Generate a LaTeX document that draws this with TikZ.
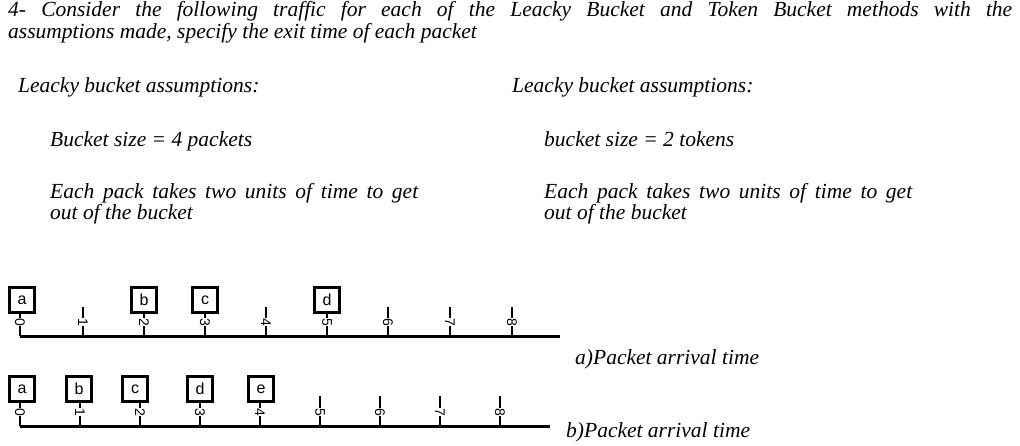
\documentclass[tikz,border=0pt]{standalone}
\usepackage{fontspec}
\setmainfont{Liberation Serif}
\newfontfamily\boxfont{Liberation Sans}
\begin{document}
\begin{tikzpicture}[x=1pt,y=-1pt,
  txt/.style={anchor=base west,inner sep=0,font=\fontsize{21.5}{24}\selectfont\itshape},
  pkt/.style={draw,line width=2.4pt,minimum size=25pt,inner sep=0,font=\boxfont\fontsize{16}{16}\selectfont},
  num/.style={rotate=-90,fill=white,inner sep=0.6pt,font=\boxfont\fontsize{14}{14}\selectfont},
  axisline/.style={line width=3pt},
  tick/.style={line width=2.8pt}]
\useasboundingbox (0,0) rectangle (1020,446);
\node[txt] (t1) at (8,17) {\makebox[1004pt][s]{4- Consider the following traffic for each of the Leacky Bucket and Token Bucket methods with the}};
\node[txt] (t2) at (8,39) {assumptions made, specify the exit time of each packet};
\node[txt] (l1) at (18,93) {Leacky bucket assumptions:};
\node[txt] (r1) at (512,93) {Leacky bucket assumptions:};
\node[txt] (l2) at (50,147) {Bucket size = 4 packets};
\node[txt] (r2) at (544,147) {bucket size = 2 tokens};
\node[txt] (l3) at (50,199) {\makebox[368pt][s]{Each pack takes two units of time to get}};
\node[txt] (l4) at (50,220) {out of the bucket};
\node[txt] (r3) at (544,199) {\makebox[368pt][s]{Each pack takes two units of time to get}};
\node[txt] (r4) at (544,220) {out of the bucket};
% top timeline
\coordinate (As) at (20,336); \coordinate (Ae) at (560,336);
\draw[axisline] (As) -- (Ae);
\foreach \i/\x in {0/20,1/83,2/144,3/205,4/266,5/327,6/388,7/450,8/512}{
  \coordinate (ta\i) at (\x,336);
  \coordinate (tt\i) at (\x,307);
  \draw[tick] (tt\i) -- (ta\i);
  \node[num] (na\i) at (\x,322) {\i};
}
\foreach \n/\x in {a/22,b/144,c/205,d/327}{
  \node[pkt,fill=white] (pa\n) at (\x,300) {\n};
}
\node[txt] (la) at (575,364) {a)Packet arrival time};
% bottom timeline
\coordinate (Bs) at (20,426); \coordinate (Be) at (550,426);
\draw[axisline] (Bs) -- (Be);
\foreach \i/\x in {0/20,1/80,2/140,3/200,4/260,5/320,6/380,7/440,8/500}{
  \coordinate (tb\i) at (\x,426);
  \coordinate (bt\i) at (\x,396);
  \draw[tick] (bt\i) -- (tb\i);
  \node[num] (nb\i) at (\x,412) {\i};
}
\foreach \n/\x in {a/22,b/79,c/135,d/200,e/261}{
  \node[pkt,fill=white] (pb\n) at (\x,389) {\n};
}
\node[txt] (lb) at (566,437) {b)Packet arrival time};
\end{tikzpicture}
\end{document}
